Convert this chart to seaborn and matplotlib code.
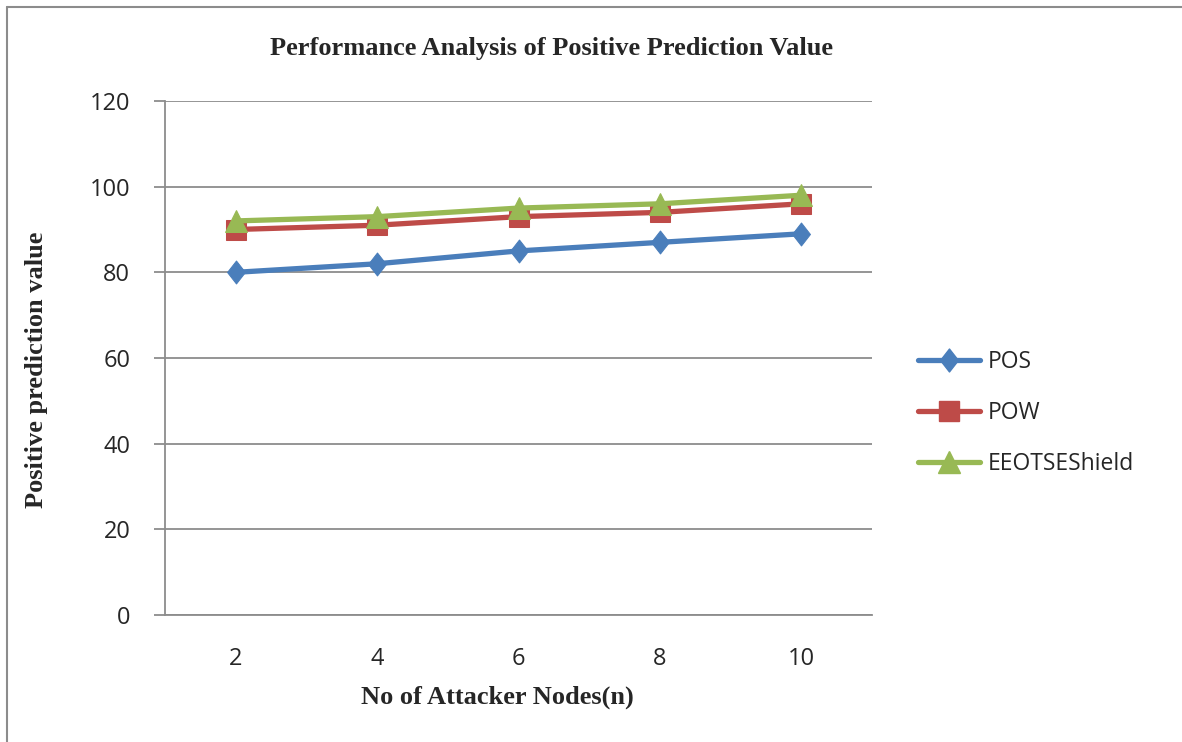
import matplotlib
matplotlib.use("Agg")
import matplotlib.pyplot as plt
import seaborn as sns
import pandas as pd
from matplotlib.lines import Line2D
from matplotlib.path import Path

nodes = ["2", "4", "6", "8", "10"]
pos = [80, 82, 85, 87, 89]
pow_ = [90, 91, 93, 94, 96]
eeot = [92, 93, 95, 96, 98]
series_names = ["POS", "POW", "EEOTSEShield"]
colors = ["#4a7ebb", "#be4b48", "#98b954"]

diamond = Path([(0, 1), (0.78, 0), (0, -1), (-0.78, 0), (0, 1)],
               [Path.MOVETO, Path.LINETO, Path.LINETO, Path.LINETO, Path.CLOSEPOLY])
markers = [diamond, "s", "^"]
msizes = [16.5, 14, 15.5]

df = pd.DataFrame({
    "n": nodes * 3,
    "value": pos + pow_ + eeot,
    "series": [s for s in series_names for _ in nodes],
})

sns.set_theme(style="white")
plt.rcParams['font.family'] = ['Open Sans', 'DejaVu Sans']

fig = plt.figure(figsize=(11.82, 7.42), dpi=100)
ax = fig.add_axes([165/1182, 1-615/742, (872-165)/1182, (615-101)/742])

for name, col, mk, ms in zip(series_names, colors, markers, msizes):
    sub = df[df["series"] == name]
    sns.lineplot(data=sub, x="n", y="value", ax=ax, color=col, marker=mk,
                 markersize=ms, markeredgecolor=col, linewidth=3.8, sort=False,
                 legend=False)

ax.set_xlim(-0.5, 4.5)
ax.set_ylim(0, 120)
ax.set_yticks([0, 20, 40, 60, 80, 100, 120])
ax.grid(axis="y", color="#8c8c8c", linewidth=1.3)
ax.set_axisbelow(True)
for s in ["top", "right"]:
    ax.spines[s].set_visible(False)
for s in ["left", "bottom"]:
    ax.spines[s].set_color("#8c8c8c")
    ax.spines[s].set_linewidth(1.3)
ax.tick_params(axis="y", length=8, width=1.3, color="#8c8c8c", left=True, pad=17, labelsize=17)
ax.tick_params(axis="x", length=0, pad=23, labelsize=17)
ax.set_xlabel("")
ax.set_ylabel("")

serif = ['Liberation Serif', 'DejaVu Serif']
fig.text(497/1182, 1-697/742, "No of Attacker Nodes(n)", ha="center", va="center",
         fontsize=19, fontweight="bold", family=serif)
fig.text(37/1182, 1-370/742, "Positive prediction value", ha="center", va="center",
         rotation=90, fontsize=19, fontweight="bold", family=serif)
fig.text(551/1182, 1-48/742, "Performance Analysis of Positive Prediction Value",
         ha="center", va="center", fontsize=19, fontweight="bold", family=serif)

handles = [Line2D([0], [0], color=c, marker=m, markersize=s, markeredgecolor=c, linewidth=3.8)
           for c, m, s in zip(colors, markers, msizes)]
fig.legend(handles, series_names, loc="center left", bbox_to_anchor=(897/1182, 1-413/742),
           frameon=False, fontsize=16.5, handlelength=2.7, labelspacing=1.17, handletextpad=0.35)

# outer border (top and left)
fig.add_artist(Line2D([7/1182, 1], [1-7/742, 1-7/742], transform=fig.transFigure, color="#8c8c8c", linewidth=1.5))
fig.add_artist(Line2D([7/1182, 7/1182], [0, 1-7/742], transform=fig.transFigure, color="#8c8c8c", linewidth=1.5))

fig.savefig("out.png", dpi=100, facecolor="white")
